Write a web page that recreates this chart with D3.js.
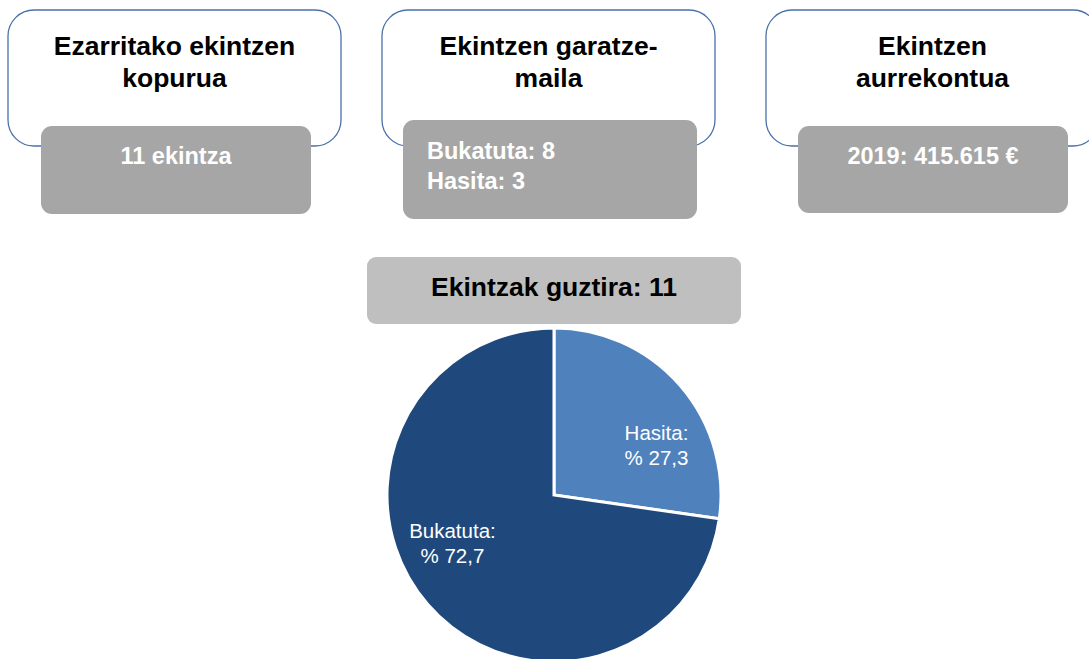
<!DOCTYPE html>
<html>
<head>
<meta charset="utf-8">
<script src="https://d3js.org/d3.v7.min.js"></script>
<style>
    body { margin: 0; background: #fff; }
    text { font-family: "Liberation Sans", Arial, sans-serif; }
</style>
</head>
<body>
<svg id="chart" width="1089" height="659"></svg>
<script>
    // data
    const cardTitles = [["Ezarritako ekintzen", "kopurua"], ["Ekintzen garatze-", "maila"], ["Ekintzen", "aurrekontua"]];
    const cardValues = [["11 ekintza"], ["Bukatuta: 8", "Hasita: 3"], ["2019: 415.615 €"]];
    const totalLabel = "Ekintzak guztira: 11";
    const sliceNames = ["Hasita", "Bukatuta"];
    const sliceCounts = [3, 8];
    const slicePercents = ["27,3", "72,7"];

    const svg = d3.select("#chart");

    // card layout
    const cards = [
        {x: 8, grey: {x: 41, y: 126, w: 270, h: 88}, align: "middle"},
        {x: 382, grey: {x: 403, y: 120, w: 294, h: 99}, align: "start"},
        {x: 766, grey: {x: 798, y: 126, w: 270, h: 87}, align: "middle"}
    ];
    const cardW = 333, cardH = 136, cardY = 10;

    cards.forEach((c, i) => {
        const g = svg.append("g");
        g.append("rect")
            .attr("x", c.x).attr("y", cardY)
            .attr("width", cardW).attr("height", cardH)
            .attr("rx", 26).attr("ry", 26)
            .attr("fill", "#fff")
            .attr("stroke", "#4a72a8")
            .attr("stroke-width", 1.3);

        const cx = c.x + cardW / 2;
        g.selectAll("text.title").data(cardTitles[i]).join("text")
            .attr("class", "title")
            .attr("x", cx)
            .attr("y", (d, j) => 55 + j * 32)
            .attr("text-anchor", "middle")
            .attr("font-size", 26.5)
            .attr("font-weight", "bold")
            .attr("fill", "#000")
            .text(d => d);

        g.append("rect")
            .attr("x", c.grey.x).attr("y", c.grey.y)
            .attr("width", c.grey.w).attr("height", c.grey.h)
            .attr("rx", 11).attr("ry", 11)
            .attr("fill", "#a6a6a6");

        g.selectAll("text.val").data(cardValues[i]).join("text")
            .attr("class", "val")
            .attr("x", c.align === "middle" ? c.grey.x + c.grey.w / 2 : c.grey.x + 24)
            .attr("y", (d, j) => (c.align === "middle" ? 164 : 159) + j * 30)
            .attr("text-anchor", c.align)
            .attr("font-size", 23.5)
            .attr("font-weight", "bold")
            .attr("fill", "#fff")
            .text(d => d);
    });

    // total box
    svg.append("rect")
        .attr("x", 367).attr("y", 257)
        .attr("width", 374).attr("height", 67)
        .attr("rx", 9).attr("ry", 9)
        .attr("fill", "#bfbfbf");
    svg.append("text")
        .attr("x", 554).attr("y", 296)
        .attr("text-anchor", "middle")
        .attr("font-size", 26.5)
        .attr("font-weight", "bold")
        .attr("fill", "#000")
        .text(totalLabel);

    // pie
    const cx = 554, cy = 495, r = 167;
    const colors = d3.scaleOrdinal().domain(sliceNames).range(["#4f81bd", "#1f497d"]);
    const pie = d3.pie().sort(null).value(d => d.count);
    const arcs = pie(sliceNames.map((n, i) => ({name: n, count: sliceCounts[i], pct: slicePercents[i]})));
    const arc = d3.arc().innerRadius(0).outerRadius(r);

    const pg = svg.append("g").attr("transform", "translate(" + cx + "," + cy + ")");
    pg.selectAll("path").data(arcs).join("path")
        .attr("d", arc)
        .attr("fill", d => colors(d.data.name))
        .attr("stroke", "#fff")
        .attr("stroke-width", 3)
        .attr("stroke-linejoin", "miter");

    // labels, nudged toward the clockwise side like Excel's best fit
    const labelNudge = [0.28, 0.26];
    const labelR = 113;
    arcs.forEach((d, i) => {
        const a = (d.startAngle + d.endAngle) / 2 + labelNudge[i];
        const lx = Math.sin(a) * labelR, ly = -Math.cos(a) * labelR;
        const t = pg.append("text")
            .attr("text-anchor", "middle")
            .attr("font-size", 20.5)
            .attr("fill", "#fff");
        t.append("tspan").attr("x", lx).attr("y", ly - 7).text(d.data.name + ":");
        t.append("tspan").attr("x", lx).attr("y", ly + 18).text("% " + d.data.pct);
    });
</script>
</body>
</html>
